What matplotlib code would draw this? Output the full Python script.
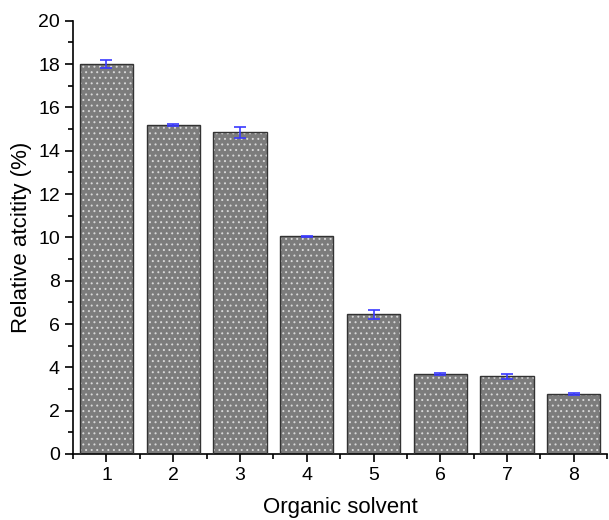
import numpy as np
import matplotlib.pyplot as plt
from matplotlib.ticker import MultipleLocator

plt.rcParams['font.family'] = ['Liberation Sans', 'DejaVu Sans']
plt.rcParams['hatch.linewidth'] = 0.7

solvents = [1, 2, 3, 4, 5, 6, 7, 8]
activity = [18.0, 15.2, 14.85, 10.05, 6.45, 3.68, 3.58, 2.75]
errors = [0.2, 0.05, 0.25, 0.03, 0.2, 0.04, 0.1, 0.05]

fig = plt.figure(figsize=(6.09, 5.2), dpi=100)
ax = fig.add_axes([0.12, 0.127, 0.877, 0.833])

# gray fill with white dots, then the dark outline on top
ax.bar(solvents, activity, width=0.8, color='#7c7c7c', edgecolor='#d8d8d8',
       hatch='...', linewidth=0, zorder=2)
ax.bar(solvents, activity, width=0.8, fill=False, edgecolor='#333333',
       linewidth=1, zorder=3)
ax.errorbar(solvents, activity, yerr=errors, fmt='none', ecolor='#3a3aff',
            elinewidth=1.2, capsize=4, capthick=1.2, zorder=4)

ax.set_xlim(0.5, 8.5)
ax.set_ylim(0, 20)
ax.set_xticks(solvents)
ax.xaxis.set_minor_locator(MultipleLocator(1, offset=0.5))
ax.yaxis.set_major_locator(MultipleLocator(2))
ax.yaxis.set_minor_locator(MultipleLocator(1))
ax.tick_params(axis='both', which='major', labelsize=14, length=6, width=1.2)
ax.tick_params(axis='both', which='minor', length=3.5, width=1.2)

for s in ['top', 'right']:
    ax.spines[s].set_visible(False)
for s in ['left', 'bottom']:
    ax.spines[s].set_linewidth(1.2)

ax.set_xlabel('Organic solvent', fontsize=16, labelpad=9)
ax.set_ylabel('Relative atcitity (%)', fontsize=16, labelpad=4)

fig.savefig('out.png', dpi=100)
